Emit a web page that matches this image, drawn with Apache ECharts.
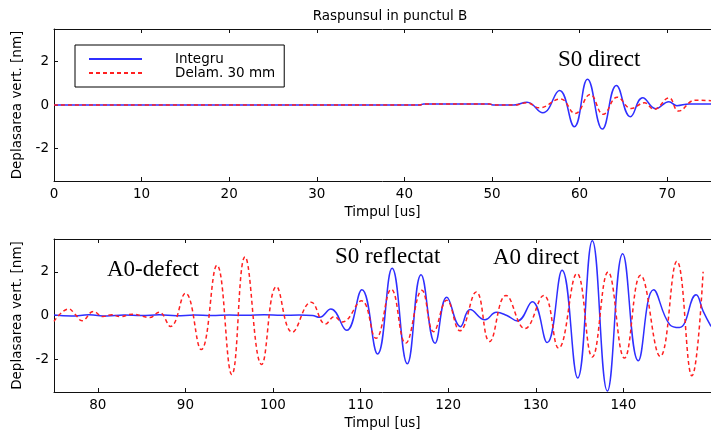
<!DOCTYPE html>
<html><head><meta charset="utf-8">
<script src="https://cdn.jsdelivr.net/npm/echarts@6/dist/echarts.min.js"></script>
<style>html,body{margin:0;padding:0;background:#fff}#c{width:711px;height:436px}</style>
</head><body><div id="c"></div>
<script>
// ---- data ----
const titleText = 'Raspunsul in punctul B';
const xName = 'Timpul [us]';
const yName = 'Deplasarea vert. [nm]';
const seriesNames = ['Integru', 'Delam. 30 mm'];
const topXTicks = [0, 10, 20, 30, 40, 50, 60, 70];
const bottomXTicks = [80, 90, 100, 110, 120, 130, 140];
const yTicks = [-2, 0, 2];
const topRange = [0, 75];
const bottomRange = [75, 150];
const yRange = [-3.5, 3.5];

// [time (us), displacement (nm)]
const topIntegru = [[0,0],[41.8,0],[42.2,0.05],[49.7,0.05],[50.1,0],[52.5,0],[54.0,0.13],[55.8,-0.36],[57.7,0.67],[59.4,-1.0],[60.9,1.19],[62.6,-1.11],[64.2,0.9],[65.8,-0.54],[67.2,0.33],[68.7,-0.17],[70.2,0.15],[71.1,-0.03],[72.5,0.05],[75,0.05]];
const topDelam = [[0,0],[41.8,0],[42.2,0.05],[49.7,0.05],[50.1,0],[52.5,0],[54.0,0.1],[55.4,-0.13],[57.8,0.28],[59.5,-0.39],[61.2,0.48],[62.7,-0.43],[64.3,0.36],[65.9,-0.16],[67.4,0.1],[68.5,-0.2],[70.2,0.33],[71.3,-0.28],[73.2,0.22],[75,0.2]];
const bottomIntegru = [[75,0.02],[77,-0.02],[79,0.03],[81,-0.02],[83,0.02],[85,0],[87,0.03],[89,-0.01],[91,0.02],[93,0],[95,0.02],[97,0.01],[99,0.03],[101,0.01],[103,0.02],[104.5,0],[105.3,-0.08],[106.6,0.3],[108.4,-0.68],[110.15,1.18],[111.94,-1.76],[113.6,2.16],[115.33,-2.21],[116.9,1.87],[118.5,-1.27],[119.84,0.84],[121.4,-0.51],[122.5,0.27],[124.2,-0.2],[125.5,0.15],[126.7,0.0],[127.9,-0.25],[129.6,0.63],[131.3,-1.24],[133.0,2.07],[134.78,-2.86],[136.45,3.42],[138.17,-3.45],[139.92,2.83],[141.7,-2.07],[143.45,1.18],[145.3,-0.42],[146.4,-0.55],[148.3,0.95],[149.1,0.2],[150,-0.5]];
const bottomDelam = [[75,-0.27],[76.7,0.3],[77.4,0.06],[78.2,-0.24],[79.5,0.18],[80.6,-0.05],[81.6,0.04],[82.5,-0.05],[84.0,0.06],[85.9,-0.09],[87.0,0.15],[88.3,-0.5],[90.0,1.02],[91.8,-1.56],[93.6,2.3],[95.3,-2.7],[96.8,2.68],[98.7,-2.24],[100.4,1.32],[102.2,-0.76],[104.35,0.61],[106.0,-0.39],[107.0,-0.05],[107.9,-0.3],[110.1,0.67],[111.75,-1.04],[113.5,1.2],[115.14,-1.27],[117.0,1.15],[118.33,-0.74],[119.84,0.7],[121.34,-0.7],[123.2,1.08],[124.72,-1.19],[126.6,0.92],[128.75,-0.6],[130.9,0.92],[132.6,-1.49],[134.7,1.92],[136.45,-1.9],[138.25,1.99],[140.12,-1.95],[141.96,1.84],[144.2,-1.87],[146.1,2.48],[147.82,-2.76],[149.1,2.0]];
const annotationTexts = ['S0 direct', 'A0-defect', 'S0 reflectat', 'A0 direct'];

// ---- styling / layout ----
const SANS = 'DejaVu Sans';
const FS = 13.5;
const AX = '#111';
const BLUE = '#2f2fff';
const RED = '#ff2020';

function xAxes(grid, range, ticks) {
  return [{
    type: 'value', gridIndex: grid, min: range[0], max: range[1], position: 'bottom',
    name: xName, nameLocation: 'middle', nameGap: 24,
    nameTextStyle: { fontFamily: SANS, fontSize: FS, color: '#000' },
    axisLine: { onZero: false, lineStyle: { color: AX, width: 1 } },
    axisTick: { inside: true, length: 4, customValues: ticks, lineStyle: { color: AX } },
    axisLabel: { customValues: ticks, margin: 6, color: '#000', fontFamily: SANS, fontSize: FS },
    splitLine: { show: false }
  }, {
    type: 'value', gridIndex: grid, min: range[0], max: range[1], position: 'top',
    axisLine: { onZero: false, lineStyle: { color: AX, width: 1 } },
    axisTick: { inside: true, length: 4, customValues: ticks, lineStyle: { color: AX } },
    axisLabel: { show: false }, splitLine: { show: false }
  }];
}
function yAxis(grid) {
  return {
    type: 'value', gridIndex: grid, min: yRange[0], max: yRange[1], position: 'left',
    name: yName, nameLocation: 'middle', nameGap: 24,
    nameTextStyle: { fontFamily: SANS, fontSize: FS, color: '#000' },
    axisLine: { onZero: false, lineStyle: { color: AX, width: 1 } },
    axisTick: { inside: true, length: 4, customValues: yTicks, lineStyle: { color: AX } },
    axisLabel: { customValues: yTicks, margin: 5, color: '#000', fontFamily: SANS, fontSize: FS },
    splitLine: { show: false }
  };
}
function line(name, data, xi, yi, dashed) {
  return {
    type: 'line', name, data, xAxisIndex: xi, yAxisIndex: yi,
    symbol: 'none', showSymbol: false, smooth: 0.45, animation: false,
    lineStyle: { color: dashed ? RED : BLUE, width: 1.5, type: dashed ? [4, 3] : 'solid' },
    itemStyle: { color: dashed ? RED : BLUE }
  };
}

const chart = echarts.init(document.getElementById('c'), null, { renderer: 'canvas' });
chart.setOption({
  animation: false,
  backgroundColor: '#fff',
  title: { text: titleText, left: 385, top: 4, textAlign: 'center',
    textStyle: { fontFamily: SANS, fontSize: FS, fontWeight: 'normal', color: '#000' } },
  grid: [
    { left: 54, top: 29, right: -8, height: 152 },
    { left: 54, top: 239, right: -8, height: 153 }
  ],
  xAxis: [...xAxes(0, topRange, topXTicks), ...xAxes(1, bottomRange, bottomXTicks)],
  yAxis: [yAxis(0), yAxis(1)],
  legend: {
    orient: 'vertical', left: 75, top: 45, data: seriesNames,
    itemWidth: 53, itemHeight: 13, itemGap: 0,
    padding: [7, 9, 7, 13],
    borderColor: '#000', borderWidth: 1, backgroundColor: '#fff', borderRadius: 0,
    selectedMode: false,
    itemStyle: { color: 'rgba(0,0,0,0)', borderWidth: 0, opacity: 0 },
    textStyle: { fontFamily: SANS, fontSize: FS, color: '#000', padding: [0, 0, 0, 28], lineHeight: 13 }
  },
  series: [
    line(seriesNames[0], topIntegru, 0, 0, false),
    line(seriesNames[1], topDelam, 0, 0, true),
    line(seriesNames[0], bottomIntegru, 2, 1, false),
    line(seriesNames[1], bottomDelam, 2, 1, true)
  ],
  graphic: [
    { type: 'text', left: 558, top: 48.5, style: { text: annotationTexts[0], font: '23px "Liberation Serif"', fill: '#000' } },
    { type: 'text', left: 107, top: 258.5, style: { text: annotationTexts[1], font: '23px "Liberation Serif"', fill: '#000' } },
    { type: 'text', left: 335, top: 245, style: { text: annotationTexts[2], font: '23px "Liberation Serif"', fill: '#000' } },
    { type: 'text', left: 493, top: 246.5, style: { text: annotationTexts[3], font: '23px "Liberation Serif"', fill: '#000' } }
  ]
});
</script>
</body></html>
